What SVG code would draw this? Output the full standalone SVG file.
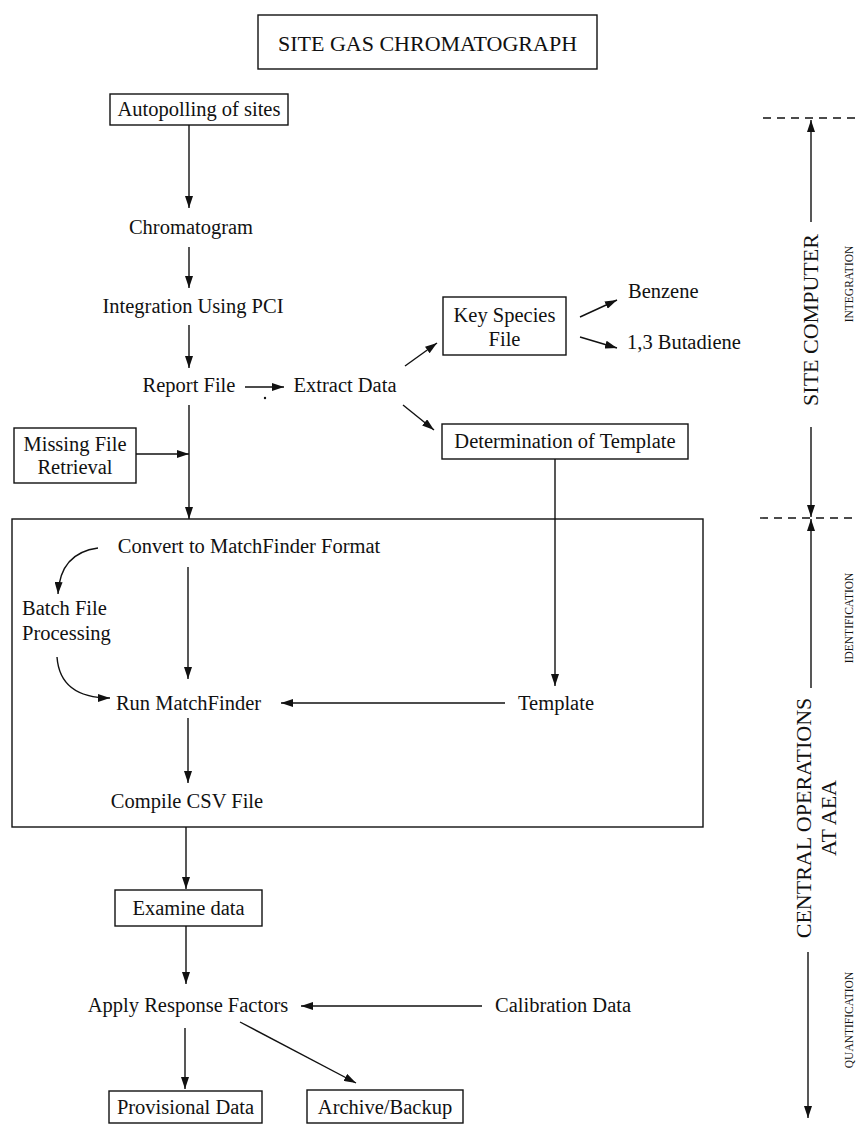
<svg xmlns="http://www.w3.org/2000/svg" width="857" height="1125" viewBox="0 0 857 1125">
<style>
text{font-family:"Liberation Serif","Times New Roman",serif;fill:#111;}
.t{font-size:20.5px;}
.m{text-anchor:middle;}
.big{font-size:22px;}
.sm{font-size:11.5px;}
.box{fill:#fff;stroke:#111;stroke-width:1.4;}
.c{fill:none;stroke:#111;stroke-width:1.4;}
.dash{fill:none;stroke:#111;stroke-width:1.4;stroke-dasharray:8 6;}
</style>
<defs>
<marker id="ah" viewBox="0 0 12 8" refX="12" refY="4" markerWidth="12" markerHeight="8" markerUnits="userSpaceOnUse" orient="auto">
<path d="M0,0 L12,4 L0,8 z" fill="#111"/>
</marker>
</defs>
<rect width="857" height="1125" fill="#fff"/>

<g id="title"><rect class="box" x="258" y="15" width="339" height="54"/><text class="big m" x="427.5" y="51">SITE GAS CHROMATOGRAPH</text></g>
<g id="autopolling"><rect class="box" x="110" y="94" width="178" height="31"/><text class="t m" x="199" y="116">Autopolling of sites</text></g>
<g id="chromatogram"><text class="t m" x="191" y="234">Chromatogram</text></g>
<g id="integration"><text class="t m" x="193" y="313">Integration Using PCI</text></g>
<g id="report"><text class="t m" x="189" y="392">Report File</text></g>
<g id="extract"><text class="t m" x="345" y="392">Extract Data</text></g>
<g id="keyspecies"><rect class="box" x="443" y="297" width="123" height="58"/><text class="t m" x="504.5" y="322">Key Species</text><text class="t m" x="504.5" y="346">File</text></g>
<g id="benzene"><text class="t" x="628" y="298">Benzene</text></g>
<g id="butadiene"><text class="t" x="627" y="349">1,3 Butadiene</text></g>
<g id="determination"><rect class="box" x="442" y="424" width="246" height="35"/><text class="t m" x="565" y="448">Determination of Template</text></g>
<g id="missing"><rect class="box" x="14" y="428" width="122" height="55"/><text class="t m" x="75" y="451">Missing File</text><text class="t m" x="75" y="474">Retrieval</text></g>
<g id="central-box"><rect class="box" x="12" y="519" width="691" height="308" fill="none"/></g>
<g id="convert"><text class="t m" x="249" y="553">Convert to MatchFinder Format</text></g>
<g id="batch"><text class="t" x="22" y="615">Batch File</text><text class="t" x="22" y="640">Processing</text></g>
<g id="run"><text class="t m" x="188.5" y="710">Run MatchFinder</text></g>
<g id="template"><text class="t m" x="556" y="710">Template</text></g>
<g id="compile"><text class="t m" x="187" y="808">Compile CSV File</text></g>
<g id="examine"><rect class="box" x="115" y="890" width="147" height="36"/><text class="t m" x="188.5" y="915">Examine data</text></g>
<g id="apply"><text class="t m" x="188" y="1012">Apply Response Factors</text></g>
<g id="calibration"><text class="t" x="495" y="1012">Calibration Data</text></g>
<g id="provisional"><rect class="box" x="109" y="1091" width="153" height="32"/><text class="t m" x="185.5" y="1114">Provisional Data</text></g>
<g id="archive"><rect class="box" x="307" y="1090" width="156" height="33"/><text class="t m" x="385" y="1114">Archive/Backup</text></g>

<g id="side-labels">
<text class="big m" transform="translate(818,320) rotate(-90)">SITE COMPUTER</text>
<text class="big m" transform="translate(811,818) rotate(-90)">CENTRAL OPERATIONS</text>
<text class="big m" transform="translate(836,818) rotate(-90)">AT AEA</text>
<text class="sm m" transform="translate(853,284) rotate(-90)">INTEGRATION</text>
<text class="sm m" transform="translate(853,618) rotate(-90)">IDENTIFICATION</text>
<text class="sm m" transform="translate(853,1020) rotate(-90)">QUANTIFICATION</text>
</g>

<g id="connectors">
<line class="c" x1="189" y1="125" x2="189" y2="208" marker-end="url(#ah)"/>
<line class="c" x1="189" y1="247" x2="189" y2="288" marker-end="url(#ah)"/>
<line class="c" x1="189" y1="325" x2="189" y2="368" marker-end="url(#ah)"/>
<line class="c" x1="245" y1="387" x2="284" y2="387" marker-end="url(#ah)"/>
<line class="c" x1="405" y1="366" x2="437" y2="343" marker-end="url(#ah)"/>
<line class="c" x1="580" y1="317" x2="617" y2="300" marker-end="url(#ah)"/>
<line class="c" x1="580" y1="337" x2="617" y2="348" marker-end="url(#ah)"/>
<line class="c" x1="403" y1="405" x2="434" y2="430" marker-end="url(#ah)"/>
<line class="c" x1="189" y1="405" x2="189" y2="519" marker-end="url(#ah)"/>
<line class="c" x1="136" y1="454" x2="189" y2="454" marker-end="url(#ah)"/>
<line class="c" x1="555" y1="459" x2="555" y2="686" marker-end="url(#ah)"/>
<line class="c" x1="505" y1="703" x2="281" y2="703" marker-end="url(#ah)"/>
<path class="c" d="M98,548 Q60,553 58,594" marker-end="url(#ah)"/>
<path class="c" d="M57,657 Q60,698 110,698" marker-end="url(#ah)"/>
<line class="c" x1="188" y1="567" x2="188" y2="679" marker-end="url(#ah)"/>
<line class="c" x1="188" y1="718" x2="188" y2="783" marker-end="url(#ah)"/>
<line class="c" x1="186" y1="827" x2="186" y2="889" marker-end="url(#ah)"/>
<line class="c" x1="186" y1="926" x2="186" y2="984" marker-end="url(#ah)"/>
<line class="c" x1="482" y1="1006" x2="301" y2="1006" marker-end="url(#ah)"/>
<line class="c" x1="185" y1="1028" x2="185" y2="1089" marker-end="url(#ah)"/>
<line class="c" x1="240" y1="1022" x2="356" y2="1083" marker-end="url(#ah)"/>
<line class="dash" x1="763" y1="118" x2="857" y2="118"/>
<line class="dash" x1="760" y1="518" x2="857" y2="518"/>
<line class="c" x1="811" y1="222" x2="811" y2="120" marker-end="url(#ah)"/>
<line class="c" x1="811" y1="427" x2="811" y2="517" marker-end="url(#ah)"/>
<line class="c" x1="811" y1="688" x2="811" y2="519" marker-end="url(#ah)"/>
<line class="c" x1="808" y1="952" x2="808" y2="1118" marker-end="url(#ah)"/>
<circle cx="265" cy="398" r="1.2" fill="#111"/>
</g>
</svg>
